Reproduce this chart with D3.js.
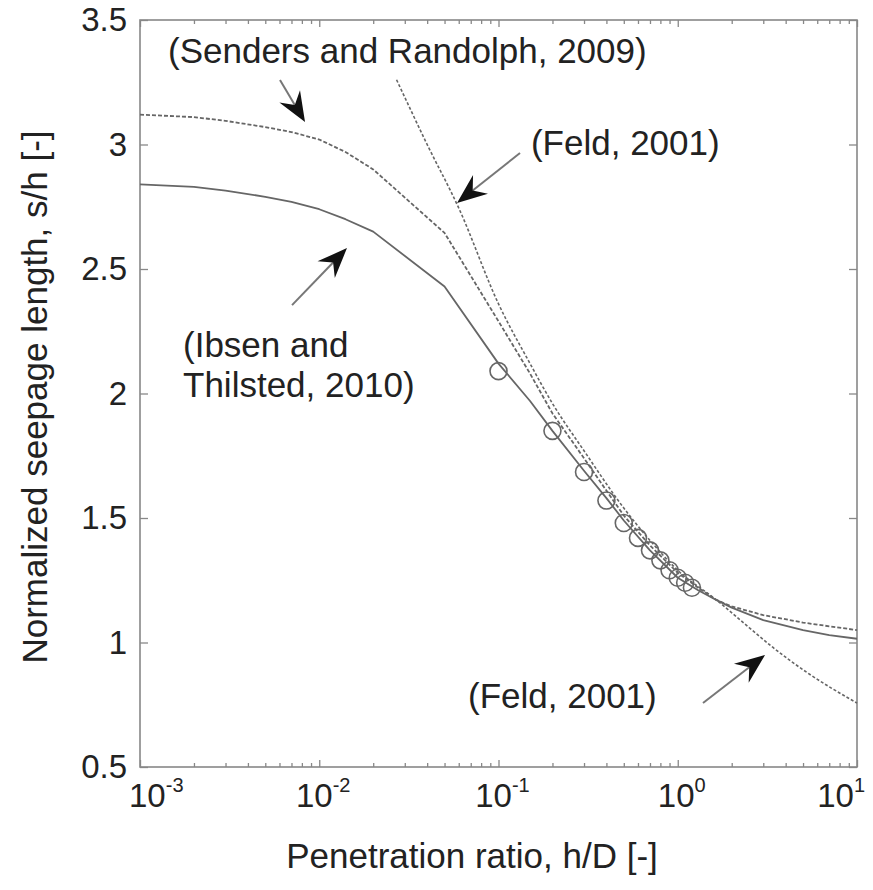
<!DOCTYPE html>
<html lang="en">
<head>
<meta charset="utf-8">
<script src="https://d3js.org/d3.v7.min.js"></script>
<style>
  body { margin: 0; background: #fff; }
  text { font-family: "Liberation Sans", Arial, sans-serif; fill: #222; }
</style>
</head>
<body>
<script>
// axis ticks
var xTicks = [1e-3, 1e-2, 1e-1, 1, 10];
var xTickExp = ["-3", "-2", "-1", "0", "1"];
var yTicks = [0.5, 1, 1.5, 2, 2.5, 3, 3.5];
var yTickLabels = ["0.5", "1", "1.5", "2", "2.5", "3", "3.5"];

// Senders and Randolph (2009), dash-dot
var sendersX = [0.001, 0.002, 0.003, 0.005, 0.007, 0.01, 0.014, 0.02, 0.05, 0.1, 0.15, 0.2, 0.3, 0.4, 0.5, 0.7, 1, 1.3, 1.65, 2, 3, 5, 7, 10];
var sendersY = [3.12, 3.11, 3.095, 3.07, 3.05, 3.02, 2.97, 2.90, 2.645, 2.29, 2.08, 1.92, 1.74, 1.61, 1.51, 1.39, 1.28, 1.22, 1.17, 1.145, 1.11, 1.08, 1.065, 1.05];

// Ibsen and Thilsted (2010), solid
var ibsenX = [0.001, 0.002, 0.003, 0.005, 0.007, 0.01, 0.014, 0.02, 0.05, 0.1, 0.15, 0.2, 0.3, 0.4, 0.5, 0.7, 1, 1.3, 1.65, 2, 3, 5, 7, 10];
var ibsenY = [2.84, 2.83, 2.815, 2.79, 2.77, 2.74, 2.70, 2.65, 2.43, 2.12, 1.97, 1.85, 1.69, 1.58, 1.49, 1.37, 1.26, 1.21, 1.17, 1.14, 1.09, 1.05, 1.03, 1.015];

// Feld (2001), dashed
var feldX = [0.027, 0.04, 0.06, 0.1, 0.15, 0.2, 0.3, 0.5, 0.7, 1, 1.65, 2.5, 3.4, 5.25, 10];
var feldY = [3.26, 3.00, 2.745, 2.36, 2.12, 1.96, 1.77, 1.54, 1.41, 1.29, 1.17, 1.06, 0.98, 0.88, 0.757];

// measured points (circles)
var pointsX = [0.1, 0.2, 0.3, 0.4, 0.5, 0.6, 0.7, 0.8, 0.9, 1.0, 1.1, 1.2];
var pointsY = [2.09, 1.85, 1.685, 1.57, 1.48, 1.42, 1.37, 1.33, 1.29, 1.26, 1.24, 1.22];

// annotations (data coordinates)
var labelText = ["(Senders and Randolph, 2009)", "(Feld, 2001)", "(Ibsen and", "Thilsted, 2010)", "(Feld, 2001)"];
var labelX = [0.001433, 0.1517, 0.001738, 0.001738, 0.0676];
var labelY = [3.327, 2.958, 2.147, 1.986, 0.737];
var arrowFromX = [0.00604, 0.1318, 0.00705, 1.383];
var arrowFromY = [3.259, 2.966, 2.355, 0.757];
var arrowToX = [0.00833, 0.0587, 0.01428, 3.069];
var arrowToY = [3.090, 2.765, 2.584, 0.950];

var W = 873, H = 890;
var plotL = 140, plotR = 857, plotT = 20, plotB = 767;

var svg = d3.select("body").append("svg").attr("width", W).attr("height", H);

var x = d3.scaleLog().domain([1e-3, 10]).range([plotL, plotR]);
var y = d3.scaleLinear().domain([0.5, 3.5]).range([plotB, plotT]);

// minor ticks 2..9 per decade
var minor = [];
for (var e = -3; e < 1; e++) {
  for (var m = 2; m <= 9; m++) minor.push(m * Math.pow(10, e));
}

function styleAxis(g) {
  g.select(".domain").remove();
  g.selectAll(".tick line").attr("stroke", "#888").attr("stroke-width", 1.3);
}

svg.append("g").attr("transform", "translate(0," + plotB + ")")
  .call(d3.axisBottom(x).tickValues(xTicks).tickSize(-7).tickFormat("")).call(styleAxis);
svg.append("g").attr("transform", "translate(0," + plotB + ")")
  .call(d3.axisBottom(x).tickValues(minor).tickSize(-4).tickFormat("")).call(styleAxis);
svg.append("g").attr("transform", "translate(0," + plotT + ")")
  .call(d3.axisTop(x).tickValues(xTicks).tickSize(-7).tickFormat("")).call(styleAxis);
svg.append("g").attr("transform", "translate(0," + plotT + ")")
  .call(d3.axisTop(x).tickValues(minor).tickSize(-4).tickFormat("")).call(styleAxis);
svg.append("g").attr("transform", "translate(" + plotR + ",0)")
  .call(d3.axisRight(y).tickValues(yTicks).tickSize(-8).tickFormat("")).call(styleAxis);

var yAxis = svg.append("g").attr("transform", "translate(" + plotL + ",0)")
  .call(d3.axisLeft(y).tickValues(yTicks).tickSize(-8).tickPadding(13)
    .tickFormat(function(d, i) { return yTickLabels[i]; }))
  .call(styleAxis);
yAxis.selectAll(".tick text")
  .style("font-family", '"Liberation Sans", Arial, sans-serif')
  .style("font-size", "33px").attr("fill", "#222");

// frame
svg.append("rect").attr("x", plotL).attr("y", plotT)
  .attr("width", plotR - plotL).attr("height", plotB - plotT)
  .attr("fill", "none").attr("stroke", "#888").attr("stroke-width", 1.6);

// x tick labels with exponent (end labels pulled inwards like the original)
var xl = svg.append("g");
xTicks.forEach(function(t, i) {
  var anchor = "middle", off = 4;
  if (i === 0) { anchor = "start"; off = -11; }
  if (i === xTicks.length - 1) { anchor = "end"; off = 8; }
  var tx = xl.append("text").attr("x", x(t) + off).attr("y", 807)
    .attr("text-anchor", anchor).style("font-size", "33px");
  tx.append("tspan").text("10");
  tx.append("tspan").attr("dy", -15).style("font-size", "20px").text(xTickExp[i]);
});

// curves
var line = d3.line().x(function(d) { return x(d[0]); }).y(function(d) { return y(d[1]); });
var smooth = d3.line().curve(d3.curveMonotoneX)
  .x(function(d) { return x(d[0]); }).y(function(d) { return y(d[1]); });
function pairs(xs, ys) { return xs.map(function(v, i) { return [v, ys[i]]; }); }

var curves = svg.append("g").attr("fill", "none").attr("stroke-linejoin", "round");
curves.append("path").attr("d", line(pairs(ibsenX, ibsenY)))
  .attr("stroke", "#666").attr("stroke-width", 1.8);
curves.append("path").attr("d", line(pairs(sendersX, sendersY)))
  .attr("stroke", "#666").attr("stroke-width", 1.8).attr("stroke-dasharray", "4,2");
curves.append("path").attr("d", smooth(pairs(feldX, feldY)))
  .attr("stroke", "#666").attr("stroke-width", 1.6).attr("stroke-dasharray", "3,2");

svg.append("g").selectAll("circle").data(pairs(pointsX, pointsY)).enter()
  .append("circle")
  .attr("cx", function(d) { return x(d[0]); })
  .attr("cy", function(d) { return y(d[1]); })
  .attr("r", 8.5).attr("fill", "none").attr("stroke", "#666").attr("stroke-width", 1.6);

// annotation labels
svg.append("g").selectAll("text").data(labelText).enter()
  .append("text")
  .attr("x", function(d, i) { return x(labelX[i]); })
  .attr("y", function(d, i) { return y(labelY[i]); })
  .style("font-size", "35px")
  .text(function(d) { return d; });

// arrows: grey shaft, black barbed head
var ag = svg.append("g");
arrowFromX.forEach(function(fx, i) {
  var x0 = x(fx), y0 = y(arrowFromY[i]), x1 = x(arrowToX[i]), y1 = y(arrowToY[i]);
  var dx = x1 - x0, dy = y1 - y0, len = Math.sqrt(dx * dx + dy * dy);
  var ux = dx / len, uy = dy / len, px = -uy, py = ux;
  var L = 30, w = 12, notch = 20;
  ag.append("line").attr("x1", x0).attr("y1", y0)
    .attr("x2", x1 - ux * notch).attr("y2", y1 - uy * notch)
    .attr("stroke", "#777").attr("stroke-width", 2);
  var pts = [
    [x1, y1],
    [x1 - ux * L + px * w, y1 - uy * L + py * w],
    [x1 - ux * notch, y1 - uy * notch],
    [x1 - ux * L - px * w, y1 - uy * L - py * w]
  ];
  ag.append("path").attr("d", "M" + pts.join("L") + "Z").attr("fill", "#111");
});

// axis titles
svg.append("text").attr("x", 472).attr("y", 868)
  .attr("text-anchor", "middle").style("font-size", "35px")
  .text("Penetration ratio, h/D [-]");
svg.append("text").attr("transform", "translate(47,397) rotate(-90)")
  .attr("text-anchor", "middle").style("font-size", "35px")
  .text("Normalized seepage length, s/h [-]");
</script>
</body>
</html>
